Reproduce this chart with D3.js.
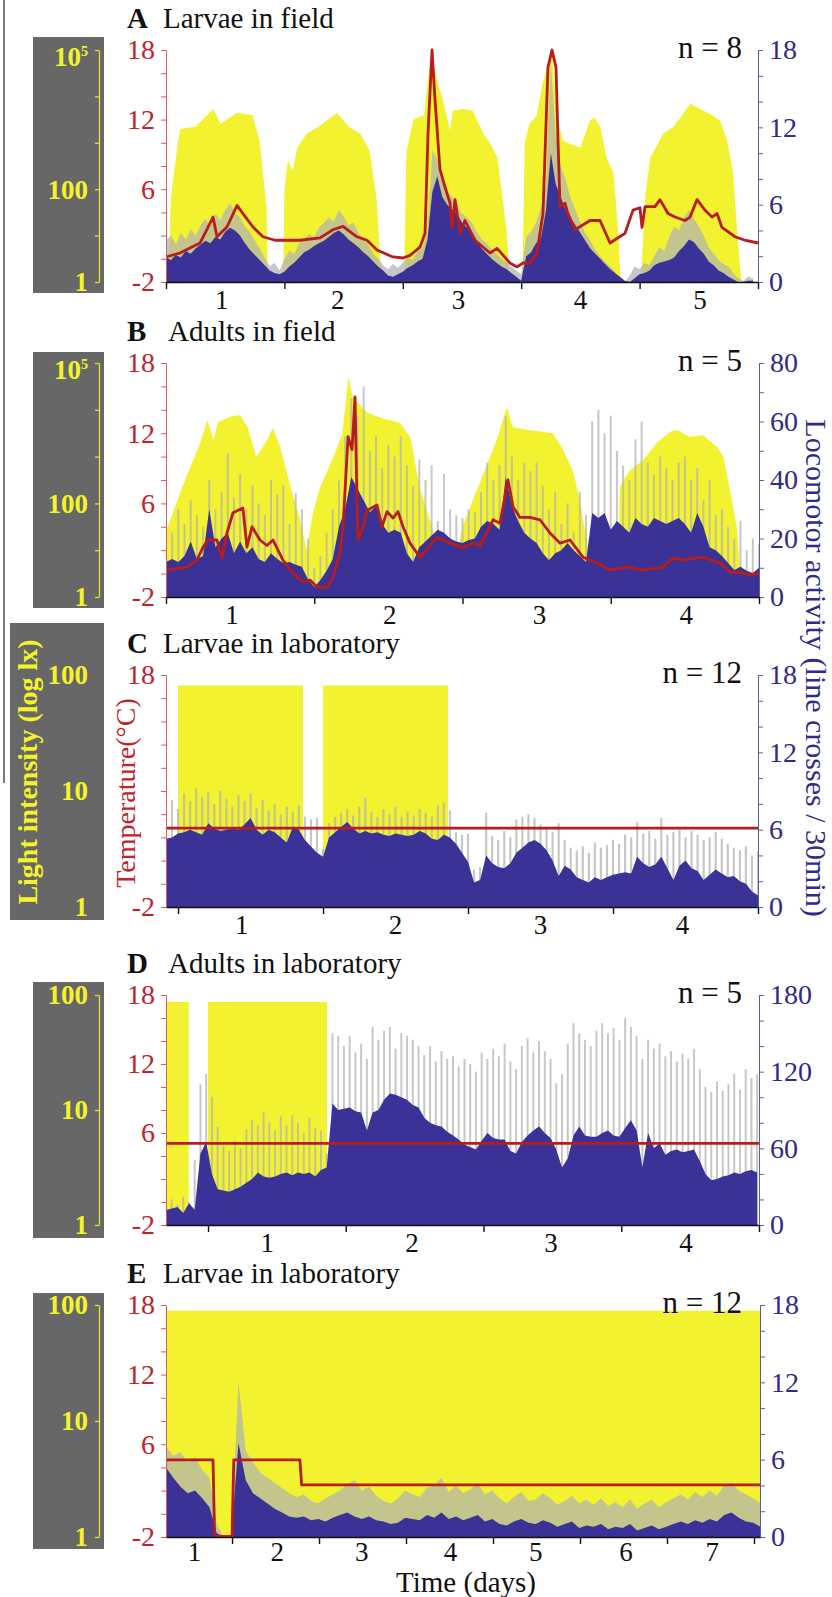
<!DOCTYPE html>
<html>
<head>
<meta charset="utf-8">
<script src="https://cdn.jsdelivr.net/npm/d3@7"></script>
<style>
  body { margin: 0; background: #fff; }
</style>
</head>
<body>
<svg id="chart" width="832" height="1597"></svg>
<script>
// ---------- A : larvae in field ----------
// light: [day, log10 lx]
var aLight = [[0,0],[0.02,0],[0.04,1.8],[0.10,3.0],[0.12,3.3],[0.25,3.35],[0.40,3.73],[0.46,3.41],[0.60,3.65],[0.73,3.6],[0.79,3.05],[0.85,1.6],[0.86,0],
  [0.99,0],[1.00,2.0],[1.03,2.62],[1.07,2.4],[1.11,2.9],[1.19,3.2],[1.30,3.37],[1.41,3.58],[1.44,3.65],[1.55,3.33],[1.64,3.2],[1.72,2.83],[1.78,1.76],[1.82,0],
  [2.01,0],[2.03,2.8],[2.09,3.5],[2.18,3.6],[2.24,4.98],[2.29,4.33],[2.34,3.91],[2.40,3.26],[2.42,3.69],[2.51,3.73],[2.59,3.69],[2.68,3.2],[2.74,2.98],[2.80,2.68],[2.82,2.25],[2.88,1.05],[2.90,0],
  [3.01,0],[3.03,3.0],[3.07,3.41],[3.13,3.58],[3.18,4.27],[3.26,4.98],[3.30,3.63],[3.35,3.05],[3.41,2.98],[3.50,2.9],[3.58,3.48],[3.62,3.54],[3.67,3.33],[3.72,2.68],[3.78,2.34],[3.82,1.05],[3.84,0],
  [4.01,0],[4.05,1.91],[4.09,2.68],[4.20,3.2],[4.28,3.33],[4.37,3.63],[4.43,3.84],[4.51,3.73],[4.59,3.63],[4.68,3.48],[4.74,3.05],[4.79,2.34],[4.83,0.9],[4.86,0],[5,0]];
// temperature: [day, °C]
var aTemp = [[0,0.16],[0.118,0.5],[0.287,1.36],[0.329,2.2],[0.397,3.6],[0.431,1.9],[0.515,2.74],[0.60,4.6],[0.65,3.9],[0.735,2.74],[0.819,1.9],[0.921,1.6],
  [1.132,1.6],[1.301,1.8],[1.41,2.5],[1.495,2.8],[1.613,1.9],[1.698,1.6],[1.782,0.76],[1.917,0.16],[2.002,0.07],[2.061,0.3],[2.145,1.0],[2.188,2.2],
  [2.213,10.8],[2.247,18],[2.272,13.7],[2.314,7.7],[2.356,6.2],[2.399,4.8],[2.416,2.7],[2.441,5.1],[2.483,2.2],[2.525,3.3],[2.61,1.6],[2.736,0.5],
  [2.796,0.9],[2.905,-0.36],[2.965,-0.7],[3.015,-0.36],[3.074,-0.36],[3.133,0.5],[3.184,3.9],[3.226,16.5],[3.26,18],[3.294,16.5],[3.311,10.2],[3.328,4.5],
  [3.37,4.8],[3.395,3.9],[3.454,2.5],[3.581,3.3],[3.666,3.3],[3.75,1.36],[3.877,2.2],[3.944,4.2],[4.003,4.4],[4.02,2.7],[4.046,4.5],[4.13,4.5],[4.172,5.1],
  [4.24,3.9],[4.299,3.6],[4.383,3.3],[4.426,3.6],[4.485,5.1],[4.552,4.2],[4.611,3.6],[4.654,3.9],[4.696,2.7],[4.806,1.9],[4.89,1.6],[5.0,1.36]];
// activity, one value per hour from day 0
var aMean = [1.9,1.7,2.1,1.9,2.4,2.2,2.6,2.9,3.2,3.0,3.5,3.3,3.9,4.2,4.0,3.6,3.0,2.5,2.1,1.7,1.3,0.9,0.7,0.6,
  0.8,1.2,1.5,1.9,2.3,2.5,2.8,3.0,3.2,3.5,3.8,4.0,3.7,3.3,3.0,2.7,2.3,2.0,1.6,1.2,0.9,0.5,0.4,0.6,
  0.8,1.1,1.3,1.6,1.8,3.3,7.0,8.2,6.6,6.0,5.6,5.3,4.6,4.2,3.8,3.2,2.6,2.2,1.8,1.5,1.2,1.0,0.7,0.4,
  0.1,2.0,2.3,3.0,3.4,5.5,10.0,7.6,6.6,5.6,5.0,4.4,3.8,3.2,2.6,2.2,1.8,1.4,1.0,0.7,0.4,0.1,0,0.3,
  0.6,0.7,0.9,1.3,1.5,1.6,1.7,1.9,2.4,2.8,3.3,3.1,2.6,2.2,1.6,1.3,0.9,0.7,0.4,0.2,0,0,0.1,0.1];
var aUpper = [3.2,3.6,2.9,3.8,3.3,4.1,3.6,4.4,4.9,4.3,5.3,4.8,5.6,6.1,5.4,5.0,4.3,3.9,3.2,2.6,1.9,1.2,1.5,0.9,
  1.8,2.4,2.2,3.0,3.3,3.7,3.5,4.2,4.6,5.0,4.7,5.6,5.1,4.4,4.6,3.8,3.4,2.9,2.2,1.8,1.3,1.0,1.4,1.1,
  1.5,1.9,1.7,2.4,2.6,4.0,10.2,9.5,7.8,7.0,6.6,6.0,5.3,5.0,4.6,3.9,3.3,3.0,2.5,2.2,1.8,1.5,1.2,0.9,
  0.6,3.5,3.9,4.6,5.8,7.5,17.0,11.5,9.0,8.0,6.5,5.6,4.6,3.8,3.2,2.5,2.0,1.6,1.2,0.8,0.2,0,0.5,1.2,
  1.0,1.5,1.3,2.0,2.7,2.4,3.5,4.3,4.0,5.0,5.6,4.9,4.3,3.6,2.7,2.2,1.7,1.4,1.2,0.7,0.3,0.1,0.4,0.3];
var aTicks = [0, 1, 2, 3, 4, 5];
var aDayPos = [0.47, 1.45, 2.47, 3.5, 4.51];

// ---------- B : adults in field ----------
var bLight = [[0,1.4],[0.11,2.35],[0.23,3.29],[0.28,3.78],[0.32,3.35],[0.35,3.74],[0.43,3.85],[0.50,3.89],[0.55,3.63],[0.61,2.99],[0.68,3.35],[0.72,3.61],
  [0.77,3.21],[0.84,2.35],[0.90,1.71],[0.95,1.0],[0.99,1.79],[1.04,2.35],[1.13,2.99],[1.19,3.5],[1.23,4.7],[1.26,4.27],[1.36,3.93],[1.46,3.82],[1.58,3.72],
  [1.65,3.4],[1.71,2.35],[1.78,1.65],[1.87,0.58],[1.92,0.3],[2.0,1.5],[2.07,2.07],[2.17,2.86],[2.23,3.35],[2.30,4.06],[2.34,3.63],[2.44,3.57],[2.54,3.53],
  [2.61,3.5],[2.68,3.14],[2.75,2.65],[2.79,2.07],[2.83,1.37],[2.87,0.64],[2.90,0],[3.05,0],[3.06,2.35],[3.13,2.71],[3.22,2.93],[3.31,3.29],[3.40,3.53],
  [3.45,3.57],[3.53,3.42],[3.62,3.46],[3.72,3.2],[3.76,2.99],[3.80,2.35],[3.85,1.5],[3.87,0.64],[3.89,0],[4,0]];
var bTemp = [[0,0.3],[0.142,0.56],[0.209,1.16],[0.25,2.27],[0.283,2.87],[0.344,2.87],[0.378,1.33],[0.411,3.47],[0.452,5.2],[0.519,5.6],[0.546,2.27],
  [0.58,4.0],[0.634,2.87],[0.681,2.4],[0.722,2.87],[0.789,1.16],[0.857,0.05],[0.924,-0.72],[0.971,-0.55],[1.019,-1.15],[1.086,-1.15],[1.126,-0.3],
  [1.174,1.76],[1.194,4.0],[1.228,11.7],[1.255,10.6],[1.275,15.1],[1.288,6.3],[1.295,2.87],[1.329,4.0],[1.356,5.4],[1.423,5.86],[1.457,4.0],[1.491,5.3],
  [1.531,4.75],[1.565,5.3],[1.599,4.0],[1.646,2.6],[1.713,1.4],[1.828,3.1],[1.916,2.6],[2.003,2.2],[2.071,2.6],[2.118,2.4],[2.206,4.6],[2.253,4.3],
  [2.307,8.0],[2.341,5.7],[2.388,4.8],[2.455,4.8],[2.523,4.6],[2.59,3.47],[2.658,2.6],[2.725,2.87],[2.813,1.4],[2.907,0.9],[2.995,0.3],[3.11,0.56],
  [3.218,0.3],[3.352,0.56],[3.42,1.33],[3.487,1.16],[3.622,1.4],[3.737,0.9],[3.804,0.14],[3.892,0.05],[3.939,-0.1],[4.0,0.05]];
var bMean = [12,13,12,14,19,13,14,30,17,20,22,15,19,15,17,13,12,15,13,11.6,12,11,10.3,6,
  3.4,5.8,9,13,24,30,41,37,33,29,31,25,22,23,22,15,12,17,19,21,23,22,20,19,
  18.5,19.5,20,24,26,25,23,41,31,26,22,20,18.5,15,12.6,15,16,18.5,16,14,12,28.7,27,28.7,
  23,26,24,22,27,25,24,27,26,25,26,27,25,22,28.7,24,17,16,14,11.6,9.2,10.3,9,8.2,
  10];
var bUpper = [27,22,30,25,33,28,24,40,30,36,49,34,42,30,38,32,28,40,35,38,25,35.6,30,20,
  10,14,22,30,40,55,68,62,72,50,55,44,52,48,55,45,38,47,40,45,26,42,30,28,
  27,30,29,36,46,40,45,62,48,40,46,43,46,38,30,36,25,32,22,36,28,60,64,56,
  62,50,45,40,54,60,46,42,48,44,40,46,48,40,44,33,40,28,30,24,20,26,16,20,
  18];
var bTicks = [0, 1, 2, 3, 4];
var bDayPos = [0.445, 1.51, 2.52, 3.51];

// ---------- C : larvae in laboratory (LD) ----------
var cLight = [[-0.083,0],[0,0],[0,1.91],[0.862,1.91],[0.862,0],[1.0,0],[1.0,1.91],[1.862,1.91],[1.862,0],[4,0]];
var cTemp = [[-0.083,4.8],[4,4.8]];
var cMean = [5.3,5.4,5.7,5.8,6.0,5.8,5.6,6.5,6.1,5.9,6.0,6.1,6.0,6.4,6.9,6.0,5.6,6.0,5.8,5.4,5.0,6.2,6.0,5.2,
  4.7,4.2,3.9,5.4,5.8,6.2,6.6,6.1,5.7,5.9,5.7,5.8,5.6,5.5,5.7,5.6,5.5,5.6,5.9,5.7,5.3,5.2,5.6,5.4,
  4.9,4.2,3.5,1.9,2.1,4.0,3.4,3.1,3.0,3.4,4.2,4.6,5.0,5.2,4.9,4.4,3.6,2.4,3.2,2.9,2.3,2.1,1.9,2.3,
  2.1,2.3,2.5,2.6,2.7,2.6,3.9,3.4,3.1,3.3,3.9,3.0,2.1,3.2,3.6,3.0,2.8,2.1,2.5,2.9,2.6,2.3,2.4,2.0,
  1.8,1.2,0.9];
var cUpper = [8.0,8.3,7.6,8.8,8.2,9.2,8.5,8.9,8.0,9.0,8.4,7.8,8.7,8.2,8.8,7.7,8.3,7.5,8.0,7.2,7.8,7.4,7.9,7.0,
  6.8,6.9,4.5,6.5,7.0,7.3,7.6,7.1,7.8,8.5,7.4,7.0,7.6,7.2,7.8,7.0,7.4,7.1,7.6,7.3,7.0,7.9,8.1,7.5,
  5.8,5.6,5.7,2.9,3.1,7.3,5.5,5.2,5.9,5.4,6.8,7.0,7.2,6.9,6.4,6.1,5.8,6.5,5.2,4.6,4.4,4.7,4.2,5.0,
  4.6,4.8,5.2,4.9,5.6,5.4,6.6,5.7,5.9,5.3,6.9,5.6,5.8,6.0,5.4,5.9,5.6,5.2,5.4,5.8,5.3,4.9,4.6,4.4,
  4.7,4.0,4.3];
var cTicks = [0, 1, 2, 3, 4];
var cDayPos = [0.44, 1.5, 2.5, 3.48];

// ---------- D : adults in laboratory ----------
var dLight = [[-0.305,1.94],[-0.14,1.94],[-0.14,0],[0,0],[0,1.94],[0.864,1.94],[0.864,0],[4,0]];
var dTemp = [[-0.305,5.1],[4,5.1]];
var dMean = [11.7,13,14,9.4,17,12,56,65,40,28,27,26,28,30,33,36,41,38,37,38,40,41,39,41,
  40,41,38,43,45,95,90,91,92,89,88,74,88,90,98,103,102,100,98,94,92,84,80,78,
  77,73,70,67,63,61,59,66,72,68,67,67,58,56,65,70,74,77,72,68,59,45,52,70,
  77,70,69,69,72,74,70,69,76,82,74,45,72,60,64,55,58,59,57,58,59,50,40,35,
  36,38,39,41,40,42,43,41];
var dUpper = [14,20,16,22,18,51,110,118,100,77,62,58,66,60,75,82,78,88,80,74,85,78,86,80,
  72,84,76,74,56,150,148,140,148,135,142,130,155,145,152,155,138,150,148,145,140,133,140,128,
  136,130,132,124,130,126,120,135,130,138,132,142,128,122,140,146,135,144,136,130,111,118,142,158,
  150,145,140,152,158,150,154,145,162,155,148,130,145,138,142,132,136,128,134,130,138,122,108,104,
  112,105,110,118,106,122,115,118];
var dTicks = [0, 1, 2, 3, 4];
var dDayPos = [0.43, 1.48, 2.49, 3.47];

// ---------- E : larvae in laboratory (LL, cold pulse) ----------
var eLight = [[0.241,1.95],[7.069,1.95]];
var eTemp = [[0.241,4.65],[0.781,4.65],[0.80,-1.95],[1.0,-1.95],[1.02,4.65],[1.78,4.65],[1.80,2.5],[7.069,2.5]];
// one value every 2 h from day 0.241
var eMean = [5.4,4.6,3.9,3.4,3.6,3.0,2.3,0.3,0,0,7.3,4.4,3.4,3.0,2.6,2.2,1.9,1.6,1.5,1.6,1.3,1.4,1.2,1.5,
  1.7,1.9,1.6,1.4,1.6,1.3,1.2,1.0,1.1,1.5,1.4,1.3,1.7,1.5,1.9,1.4,1.6,1.3,1.5,1.7,1.2,1.4,1.0,0.9,
  1.2,1.4,1.1,1.0,1.3,1.1,0.8,1.0,1.2,0.7,0.9,0.8,1.0,0.6,0.8,0.7,1.0,0.5,0.7,0.9,0.6,0.8,1.0,1.2,
  1.0,1.3,1.1,1.4,1.2,1.7,1.9,1.5,1.2,1.1,0.8];
var eUpper = [7.0,6.3,6.6,5.8,6.2,5.2,4.6,1.0,0,0,12.0,6.7,5.8,5.0,4.6,4.2,3.8,3.4,3.1,3.3,2.8,2.6,3.0,3.3,
  3.6,4.1,4.4,3.6,3.9,3.2,2.8,2.6,3.0,3.6,3.3,3.1,3.8,4.0,4.6,3.5,4.0,3.4,3.7,4.2,3.3,3.6,3.0,2.6,
  3.1,3.5,2.8,2.9,3.4,3.0,2.5,2.8,3.2,2.6,2.9,2.5,3.0,2.4,2.7,2.3,2.9,2.2,2.6,2.9,2.3,2.7,3.0,3.3,
  2.9,3.5,3.1,3.6,3.2,4.0,4.2,3.6,3.3,3.0,2.6];
var eTicks = [1, 2, 3, 4, 5, 6, 7];
var eDayPos = [0.57, 1.52, 2.49, 3.51, 4.49, 5.53, 6.52];

var fieldLightLabels = [[5, "10", "5"], [2, "100"], [0, "1"]];
var labLightLabels = [[2, "100"], [1, "10"], [0, "1"]];

var FONT = '"Liberation Serif", "Times New Roman", serif';
var YEL = "#f2f231", NAVY = "#3a3296", GRAY = "#b2b2b2", TEMPC = "#b81c1c";
var RED = "#c1232b", BLUE = "#2e2a8e", BOXC = "#676767", YTXT = "#f4f42a";

var svg = d3.select("#chart").attr("font-family", FONT);

// stray frame line at the far left
svg.append("line").attr("x1", 4).attr("x2", 4).attr("y1", 0).attr("y2", 783).attr("stroke", "#222").attr("stroke-width", 1.2);

var panels = [
  {key: "A", title: "Larvae in field", n: "n = 8", top: 50, bottom: 282, right: 758, days: [0, 5],
   ticks: aTicks, dayPos: aDayPos, actMax: 18, actStep: 2, actLabels: [0, 6, 12, 18], tempLabels: [-2, 6, 12, 18],
   lightMax: 5, lightLabels: fieldLightLabels, lightLine: true, box: [33, 37, 104, 293],
   light: aLight, temp: aTemp, mean: aMean, upper: aUpper, start: 0, step: 1 / 24, gray: "area"},
  {key: "B", title: "Adults in field", n: "n = 5", top: 363, bottom: 597, right: 759, days: [0, 4],
   ticks: bTicks, dayPos: bDayPos, actMax: 80, actStep: 10, actLabels: [0, 20, 40, 60, 80], tempLabels: [-2, 6, 12, 18],
   lightMax: 5, lightLabels: fieldLightLabels, lightLine: true, box: [33, 352, 104, 608],
   light: bLight, temp: bTemp, mean: bMean, upper: bUpper, start: 0, step: 1 / 24, gray: "bars", barW: 2},
  {key: "C", title: "Larvae in laboratory", n: "n = 12", top: 675, bottom: 907, right: 758, days: [-0.083, 4],
   ticks: cTicks, dayPos: cDayPos, actMax: 18, actStep: 2, actLabels: [0, 6, 12, 18], tempLabels: [-2, 18],
   lightMax: 2, lightLabels: labLightLabels, lightLine: false, box: [10, 623, 104, 920],
   light: cLight, temp: cTemp, mean: cMean, upper: cUpper, start: -0.0833, step: 1 / 24, gray: "bars", barW: 2.2},
  {key: "D", title: "Adults in laboratory", n: "n = 5", top: 995, bottom: 1225, right: 759, days: [-0.305, 4],
   ticks: dTicks, dayPos: dDayPos, actMax: 180, actStep: 20, actLabels: [0, 60, 120, 180], tempLabels: [-2, 6, 12, 18],
   lightMax: 2, lightLabels: labLightLabels, lightLine: true, box: [33, 982, 104, 1238],
   light: dLight, temp: dTemp, mean: dMean, upper: dUpper, start: -0.305, step: 1 / 24, gray: "bars", barW: 2},
  {key: "E", title: "Larvae in laboratory", n: "n = 12", top: 1305, bottom: 1537, right: 760, days: [0.241, 7.069],
   ticks: eTicks, dayPos: eDayPos, actMax: 18, actStep: 2, actLabels: [0, 6, 12, 18], tempLabels: [-2, 6, 12, 18],
   lightMax: 2, lightLabels: labLightLabels, lightLine: true, box: [33, 1293, 104, 1549],
   light: eLight, temp: eTemp, mean: eMean, upper: eUpper, start: 0.241, step: 1 / 12, gray: "area"}
];

panels.forEach(drawPanel);

function drawPanel(p) {
  var left = 166;
  var x = d3.scaleLinear().domain(p.days).range([left, p.right]);
  var yT = d3.scaleLinear().domain([-2, 18]).range([p.bottom, p.top]);
  var yA = d3.scaleLinear().domain([0, p.actMax]).range([p.bottom, p.top]);
  var yL = d3.scaleLinear().domain([0, p.lightMax]).range([p.bottom, p.top]);

  // grey light-intensity box
  svg.append("rect").attr("x", p.box[0]).attr("y", p.box[1])
    .attr("width", p.box[2] - p.box[0]).attr("height", p.box[3] - p.box[1]).attr("fill", BOXC);
  if (p.lightLine) {
    var la = svg.append("g").attr("transform", "translate(99,0)")
      .call(d3.axisLeft(yL).tickValues(d3.range(0, p.lightMax + 1)).tickFormat("").tickSize(4).tickSizeOuter(0));
    la.selectAll("path,line").attr("stroke", "#e0e030").attr("stroke-width", 1.3);
  }
  p.lightLabels.forEach(function(l) {
    var t = svg.append("text").attr("x", 88).attr("y", yL(l[0]))
      .attr("dy", l[2] ? "0.6em" : "0.35em").attr("text-anchor", "end")
      .attr("fill", YTXT).attr("font-weight", "bold").attr("font-size", 27).text(l[1]);
    if (l[2]) t.append("tspan").attr("dy", "-0.75em").attr("font-size", 14).text(l[2]);
  });

  // plot area
  svg.append("clipPath").attr("id", "clip" + p.key).append("rect")
    .attr("x", left).attr("y", p.top - 2).attr("width", p.right - left).attr("height", p.bottom - p.top + 2);
  var plot = svg.append("g").attr("clip-path", "url(#clip" + p.key + ")");

  plot.append("path").datum(p.light).attr("fill", YEL)
    .attr("d", d3.area().x(function(d) { return x(d[0]); }).y0(p.bottom).y1(function(d) { return yL(d[1]); }));

  var upper = p.upper.map(function(v, i) { return [p.start + i * p.step, v]; });
  var mean = p.mean.map(function(v, i) { return [p.start + i * p.step, v]; });

  if (p.gray == "bars") {
    plot.append("g").selectAll("rect").data(upper).join("rect")
      .attr("x", function(d) { return x(d[0]) - p.barW / 2; })
      .attr("width", p.barW)
      .attr("y", function(d) { return yA(d[1]); })
      .attr("height", function(d) { return p.bottom - yA(d[1]); })
      .attr("fill", GRAY).attr("fill-opacity", 0.72);
  } else {
    plot.append("path").datum(upper).attr("fill", GRAY).attr("fill-opacity", 0.72)
      .attr("d", d3.area().x(function(d) { return x(d[0]); }).y0(p.bottom).y1(function(d) { return yA(d[1]); }));
  }
  plot.append("path").datum(mean).attr("fill", NAVY)
    .attr("d", d3.area().x(function(d) { return x(d[0]); }).y0(p.bottom).y1(function(d) { return yA(d[1]); }));

  plot.append("path").datum(p.temp).attr("fill", "none").attr("stroke", TEMPC)
    .attr("stroke-width", 2.8).attr("stroke-linejoin", "round")
    .attr("d", d3.line().x(function(d) { return x(d[0]); }).y(function(d) { return yT(d[1]); }));

  // temperature axis (left)
  var gl = svg.append("g").attr("transform", "translate(" + left + ",0)")
    .call(d3.axisLeft(yT).tickValues(d3.range(-2, 19, 2))
      .tickFormat(function(d) { return p.tempLabels.indexOf(d) >= 0 ? String(d) : ""; })
      .tickSize(5).tickSizeOuter(0).tickPadding(6));
  gl.attr("font-family", FONT).attr("font-size", 28);
  gl.selectAll("path,line").attr("stroke", "#dd5a5a");
  gl.selectAll("text").attr("fill", RED);

  // activity axis (right)
  var gr = svg.append("g").attr("transform", "translate(" + p.right + ",0)")
    .call(d3.axisRight(yA).tickValues(d3.range(0, p.actMax + 1, p.actStep))
      .tickFormat(function(d) { return p.actLabels.indexOf(d) >= 0 ? String(d) : ""; })
      .tickSize(5).tickSizeOuter(0).tickPadding(6));
  gr.attr("font-family", FONT).attr("font-size", 28);
  gr.selectAll("path,line").attr("stroke", "#5c5c9c");
  gr.selectAll("text").attr("fill", BLUE);

  // time axis
  var gx = svg.append("g").attr("transform", "translate(0," + p.bottom + ")")
    .call(d3.axisBottom(x).tickValues(p.ticks).tickFormat("").tickSize(7).tickSizeOuter(0));
  gx.select(".domain").attr("stroke", "#111").attr("stroke-width", 1.6);
  gx.selectAll(".tick line").attr("stroke", "#111").attr("stroke-width", 1.4);
  svg.append("g").selectAll("text").data(p.dayPos).join("text")
    .attr("x", function(d) { return x(d); }).attr("y", p.bottom + (p.key == "E" ? 24 : 27))
    .attr("text-anchor", "middle").attr("font-size", 27).attr("fill", "#111")
    .text(function(d, i) { return i + 1; });

  // titles
  var tt = svg.append("text").attr("x", 127).attr("y", p.top - 22).attr("font-size", 29).attr("fill", "#111");
  tt.append("tspan").attr("font-weight", "bold").text(p.key);
  tt.append("tspan").attr("x", p.key == "B" || p.key == "D" ? 168 : 163).text(p.title);
  svg.append("text").attr("x", 742).attr("y", p.top + 8).attr("text-anchor", "end")
    .attr("font-size", 31).attr("fill", "#111").text(p.n);
}

// shared axis titles
svg.append("text").attr("transform", "translate(27,772) rotate(-90)")
  .attr("text-anchor", "middle").attr("dy", "0.35em").attr("font-weight", "bold")
  .attr("font-size", 28).attr("fill", YTXT).text("Light intensity (log lx)");
svg.append("text").attr("transform", "translate(125,793) rotate(-90)")
  .attr("text-anchor", "middle").attr("dy", "0.35em")
  .attr("font-size", 28).attr("fill", RED).text("Temperature(\u00b0C)");
svg.append("text").attr("transform", "translate(816,668) rotate(90)")
  .attr("text-anchor", "middle").attr("dy", "0.35em")
  .attr("font-size", 30).attr("fill", BLUE).text("Locomotor activity (line crosses / 30min)");
svg.append("text").attr("x", 466).attr("y", 1592).attr("text-anchor", "middle")
  .attr("font-size", 29).attr("fill", "#111").text("Time (days)");
</script>
</body>
</html>
